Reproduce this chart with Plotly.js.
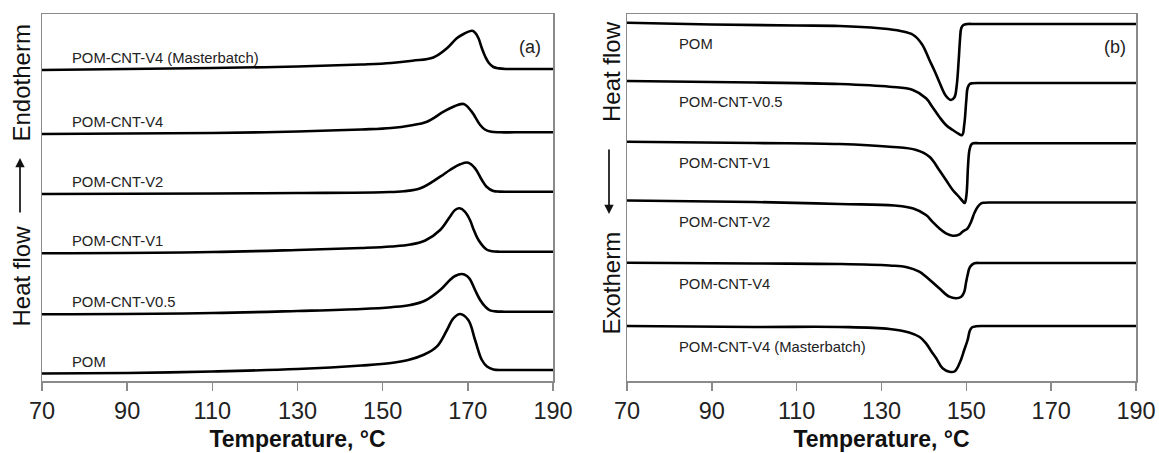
<!DOCTYPE html>
<html>
<head>
<meta charset="utf-8">
<script src="https://cdn.plot.ly/plotly-3.0.1.min.js"></script>
<style>html,body{margin:0;padding:0;background:#fff;}#chart{width:1159px;height:453px;}</style>
</head>
<body>
<div id="chart"></div>
<script>
// ---------- Data (heat flow in arbitrary, vertically offset units) ----------
const seriesNames = ["POM", "POM-CNT-V0.5", "POM-CNT-V1", "POM-CNT-V2", "POM-CNT-V4", "POM-CNT-V4 (Masterbatch)"];
const xTickVals = [70, 90, 110, 130, 150, 170, 190];
const xTickText = ["70", "90", "110", "130", "150", "170", "190"];

// (a) heating scans - endotherm up
const tempA_POM = [70, 90, 110, 130, 145, 152, 156, 159.5, 162.7, 165.1, 166.6, 168.2, 170.1, 171.7, 173.3, 174.5, 176, 178, 181, 186, 190];
const heatA_POM = [7.5, 8, 9.5, 12, 15.5, 18, 21, 26, 34.3, 51, 62.7, 67, 61, 41, 21, 14.5, 11.6, 11, 11, 11, 11];

const tempA_V05 = [70, 110, 130, 145, 152, 156.5, 160, 163.5, 165.8, 167, 168.6, 169.8, 170.5, 171.7, 172.9, 174.1, 175.2, 176.5, 178.5, 182, 186, 190];
const heatA_V05 = [66.7, 68, 70, 72, 73.8, 76, 80.5, 91, 101, 105, 107, 105, 101.7, 91, 81, 74.3, 70.6, 69.6, 69.3, 69.3, 69.3, 69.3];

const tempA_V1 = [70, 110, 130, 145, 152, 156.5, 160, 163.5, 165.8, 167, 168.1, 169.3, 170.5, 171.4, 172.5, 174.4, 175.7, 177.5, 180, 185, 190];
const heatA_V1 = [127.7, 129, 131, 133, 134.5, 136.5, 140.5, 151, 164.3, 171, 172.7, 169.3, 161, 151, 141, 131.5, 129.8, 129.3, 129.3, 129.3, 129.3];

const tempA_V2 = [70, 110, 130, 150, 155, 159, 163.5, 165.8, 168.2, 170.1, 171.7, 173.3, 174.4, 176, 177.5, 180, 185, 190];
const heatA_V2 = [187, 187.5, 188, 188.8, 189.8, 193, 204.3, 211, 216.7, 218.3, 212.7, 201, 194.3, 190, 189.4, 189.3, 189.3, 189.3];

const tempA_V4 = [70, 90, 110, 130, 145, 152, 156.5, 160.4, 164.3, 166.6, 169, 170.9, 172.9, 174, 175.5, 177.5, 181, 186, 190];
const heatA_V4 = [247, 247.5, 248, 249.5, 251.5, 253, 255.5, 259.3, 269.3, 274.3, 277, 269.3, 256, 251.5, 249.2, 248.7, 248.7, 248.7, 248.7];

const tempA_MB = [70, 90, 110, 130, 145, 152, 157, 161.9, 165.1, 167.4, 169, 171, 171.7, 172.5, 173.3, 174.1, 174.9, 176, 177.3, 179, 182, 186, 190];
const heatA_MB = [311, 312, 313, 314.5, 316.5, 318, 320.3, 323.5, 332.7, 342.7, 347, 350.3, 348.3, 342.7, 332.7, 324.3, 318.3, 314, 312.6, 312, 312, 312, 312];

// (b) cooling scans - exotherm down
const tempB_POM = [70, 90, 110, 120.1, 129.5, 134.5, 137.5, 139.5, 141.3, 142.6, 143.6, 145.2, 146.4, 147.2, 147.7, 148.2, 148.5, 148.8, 149.3, 150.3, 152, 155, 160, 170, 180, 190];
const heatB_POM = [358.3, 356.5, 355.5, 355, 352.7, 350, 346, 337, 321, 309.3, 299.3, 285, 281, 283.7, 294.3, 321, 341, 352.7, 356, 357, 357, 357, 357, 357, 357, 357];

const tempB_V05 = [70, 100, 120.1, 131.9, 137.4, 140.5, 142, 143.6, 145.2, 146.8, 148, 149, 149.5, 150, 150.3, 150.8, 151.5, 153, 156, 160, 170, 180, 190];
const heatB_V05 = [300, 298.5, 297, 294.3, 291, 282.7, 274, 264.3, 256, 251, 247.7, 246, 256, 281, 293, 297, 297.7, 298, 298, 298, 298, 298, 298];

const tempB_V1 = [70, 100, 120.1, 131.9, 138.2, 141.3, 143.6, 145.2, 146.8, 148.2, 149.1, 149.6, 150, 150.4, 150.7, 151.1, 151.6, 153, 156, 160, 170, 180, 190];
const heatB_V1 = [239.3, 238, 237, 234.3, 231, 224.3, 211, 201, 191, 184.5, 180, 178, 185, 215, 230, 236, 237.7, 237.7, 237.7, 237.7, 237.7, 237.7, 237.7];

const tempB_V2 = [70, 100, 120.1, 133, 137.5, 140.5, 142, 143.6, 145.2, 146.8, 148.4, 149.1, 150.3, 151.1, 151.9, 152.7, 153.5, 154.2, 156, 160, 170, 180, 190];
const heatB_V2 = [180.5, 179, 177, 175.5, 172.5, 166, 159.3, 152.7, 147.7, 145.3, 146.7, 149.3, 152.7, 159, 168, 174.3, 177.7, 178.3, 178.5, 178.5, 178.5, 178.5, 178.5];

const tempB_V4 = [70, 100, 120.1, 131.9, 136, 138.9, 140.5, 143.6, 146, 147.6, 148.8, 149.5, 149.9, 150.3, 150.9, 151.9, 153.5, 156, 160, 170, 180, 190];
const heatB_V4 = [118.3, 117.5, 117, 115.5, 113.8, 109.3, 104.3, 92.7, 84.3, 82.7, 84.3, 89, 97.7, 106, 114.3, 117.7, 118, 118, 118, 118, 118, 118];

const tempB_MB = [70, 100, 120.1, 131.9, 136.5, 139, 140.5, 141.7, 142.9, 144.4, 146, 147.2, 148.4, 149.5, 150.3, 150.8, 151.3, 152.3, 154, 157, 161, 170, 180, 190];
const heatB_MB = [55, 54, 54, 52, 48.5, 44, 37.7, 30, 22.7, 12.7, 9.3, 9.5, 17.7, 31, 41, 50, 53.5, 54.7, 55, 55, 55, 55, 55, 55];

// ---------- Build ----------
const panelA = [[tempA_POM, heatA_POM], [tempA_V05, heatA_V05], [tempA_V1, heatA_V1], [tempA_V2, heatA_V2], [tempA_V4, heatA_V4], [tempA_MB, heatA_MB]];
const panelB = [[tempB_POM, heatB_POM], [tempB_V05, heatB_V05], [tempB_V1, heatB_V1], [tempB_V2, heatB_V2], [tempB_V4, heatB_V4], [tempB_MB, heatB_MB]];

const FONT = "Liberation Sans, Arial, Helvetica, sans-serif";
const lineStyle = {color: "#000", width: 2.6, shape: "spline", smoothing: 1.1};

const traces = [];
const annotations = [];
panelA.forEach((d, i) => {
  traces.push({x: d[0], y: d[1], xaxis: "x", yaxis: "y", type: "scatter", mode: "lines", name: seriesNames[i], line: lineStyle, showlegend: false, hoverinfo: "skip"});
  annotations.push({xref: "x", yref: "y", x: 76.6, y: d[1][0] + 12, text: seriesNames[i], showarrow: false, xanchor: "left", yanchor: "middle", font: {family: FONT, size: 14.8, color: "#222"}});
});
panelB.forEach((d, i) => {
  traces.push({x: d[0], y: d[1], xaxis: "x2", yaxis: "y2", type: "scatter", mode: "lines", name: seriesNames[i], line: lineStyle, showlegend: false, hoverinfo: "skip"});
  annotations.push({xref: "x2", yref: "y2", x: 81.9, y: d[1][0] - 21, text: seriesNames[i], showarrow: false, xanchor: "left", yanchor: "middle", font: {family: FONT, size: 14.8, color: "#222"}});
});

const W = 1159, H = 453, MT = 14, MB = 72;
const PH = H - MT - MB;
const px = v => v / W;
const py = v => (H - MB - v) / PH;

const titleFont = {family: FONT, size: 24, color: "#111"};
// panel tags
annotations.push({xref: "paper", yref: "paper", x: px(530), y: py(47), text: "(a)", showarrow: false, xanchor: "center", yanchor: "middle", font: {family: FONT, size: 18, color: "#222"}});
annotations.push({xref: "paper", yref: "paper", x: px(1115), y: py(46.5), text: "(b)", showarrow: false, xanchor: "center", yanchor: "middle", font: {family: FONT, size: 18, color: "#222"}});
// left y title: Heat flow -> Endotherm
annotations.push({xref: "paper", yref: "paper", x: px(21), y: py(83.5), text: "Endotherm", textangle: -90, showarrow: false, xanchor: "center", yanchor: "middle", font: titleFont});
annotations.push({xref: "paper", yref: "paper", x: px(21), y: py(276.5), text: "Heat flow", textangle: -90, showarrow: false, xanchor: "center", yanchor: "middle", font: titleFont});
annotations.push({xref: "paper", yref: "paper", x: px(20), y: py(158), text: "", showarrow: true, ax: 0, ay: 56, arrowhead: 2, arrowsize: 1.1, arrowwidth: 1.7, arrowcolor: "#111"});
// right y title: Heat flow <- Exotherm
annotations.push({xref: "paper", yref: "paper", x: px(611), y: py(72), text: "Heat flow", textangle: -90, showarrow: false, xanchor: "center", yanchor: "middle", font: titleFont});
annotations.push({xref: "paper", yref: "paper", x: px(611), y: py(283.5), text: "Exotherm", textangle: -90, showarrow: false, xanchor: "center", yanchor: "middle", font: titleFont});
annotations.push({xref: "paper", yref: "paper", x: px(609), y: py(214), text: "", showarrow: true, ax: 0, ay: -66, arrowhead: 2, arrowsize: 1.1, arrowwidth: 1.7, arrowcolor: "#111"});

const xAxisBase = {
  range: [70, 190], tickvals: xTickVals, ticktext: xTickText, ticks: "outside", ticklen: 8, tickwidth: 1.5, tickcolor: "#8a8a8a",
  showline: true, linecolor: "#8a8a8a", linewidth: 1.5, mirror: true, showgrid: false, zeroline: false,
  tickfont: {family: FONT, size: 23.5, color: "#222"},
  title: {text: "Temperature, °C", font: {family: FONT, size: 23, color: "#111", weight: "bold"}, standoff: 8},
  fixedrange: true
};
const yAxisBase = {range: [0, PH], showticklabels: false, ticks: "", showline: true, linecolor: "#8a8a8a", linewidth: 1.5, mirror: true, showgrid: false, zeroline: false, fixedrange: true, domain: [0, 1]};

const layout = {
  width: W, height: H,
  margin: {l: 0, r: 0, t: MT, b: MB, pad: 0},
  paper_bgcolor: "#fff", plot_bgcolor: "#fff",
  showlegend: false,
  xaxis: Object.assign({}, xAxisBase, {domain: [px(42), px(553)], anchor: "y"}),
  yaxis: Object.assign({}, yAxisBase, {anchor: "x"}),
  xaxis2: Object.assign({}, xAxisBase, {domain: [px(627), px(1136)], anchor: "y2"}),
  yaxis2: Object.assign({}, yAxisBase, {anchor: "x2"}),
  annotations: annotations,
  font: {family: FONT}
};

Plotly.newPlot("chart", traces, layout, {staticPlot: true, displayModeBar: false});
</script>
</body>
</html>
